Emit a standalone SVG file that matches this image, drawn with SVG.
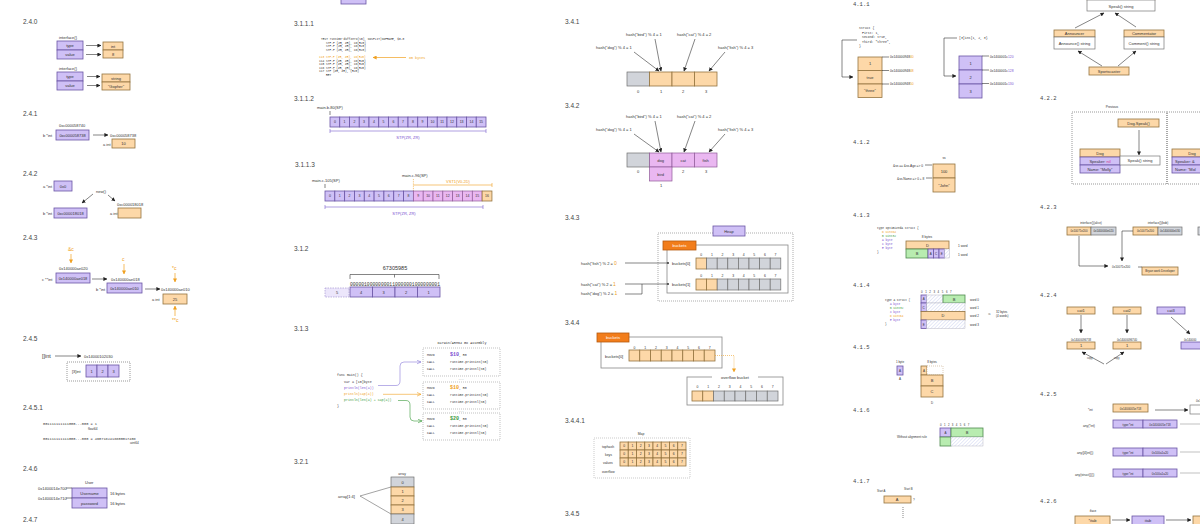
<svg xmlns="http://www.w3.org/2000/svg" width="1200" height="524" viewBox="0 0 1200 524">
<defs>
<style>
text{font-family:"Liberation Sans",Arial,sans-serif;font-size:4px;fill:#333}
.h{font-size:6.5px;fill:#444}
.c{text-anchor:middle}
.m{font-family:"Liberation Mono","DejaVu Sans Mono",monospace;font-size:3.6px}
.s{font-size:3.2px}
.p{fill:#cfc0f6;stroke:#6a55a5;stroke-width:0.8}
.pd{fill:#ece6fb;stroke:#9a8ccc;stroke-width:0.6;stroke-dasharray:1.5 1}
.o{fill:#fdd8a8;stroke:#94743f;stroke-width:0.8}
.g{fill:#d1d4da;stroke:#707070;stroke-width:0.7}
.k{fill:#eab7f1;stroke:#8f5b98;stroke-width:0.7}
.gr{fill:#b8ecb0;stroke:#4f8a4f;stroke-width:0.8}
.w{fill:#fff;stroke:#777;stroke-width:0.7}
.hh{fill:url(#hatch);stroke:#aab;stroke-width:0.4}
.ob{fill:#f27d1b;stroke:#b65a10;stroke-width:0.8}
.ln{stroke:#333;stroke-width:0.6;fill:none}
.la{stroke:#333;stroke-width:0.6;fill:none;marker-end:url(#ar)}
.lo{stroke:#f0a020;stroke-width:0.7;fill:none;marker-end:url(#ao)}
.dot{fill:none;stroke:#999;stroke-width:0.6;stroke-dasharray:1 1}
.bx{fill:none;stroke:#888;stroke-width:0.8}
.or{fill:#f0a020}
.pu{fill:#7a4fd0}
.gn{fill:#3a9a3a}
.wt{fill:#fff}
</style>
<marker id="ar" viewBox="0 0 10 10" refX="9" refY="5" markerWidth="4" markerHeight="4" markerUnits="userSpaceOnUse" orient="auto"><path d="M0,0L10,5L0,10z" fill="#222"/></marker>
<marker id="ao" viewBox="0 0 10 10" refX="9" refY="5" markerWidth="4" markerHeight="4" markerUnits="userSpaceOnUse" orient="auto"><path d="M0,0L10,5L0,10z" fill="#f0a020"/></marker>
<marker id="aop" viewBox="0 0 10 10" refX="9" refY="5" markerWidth="5" markerHeight="5" markerUnits="userSpaceOnUse" orient="auto"><path d="M0,1L9,5L0,9" fill="none" stroke="#8a7ad8" stroke-width="1.2"/></marker>
<marker id="aoo" viewBox="0 0 10 10" refX="9" refY="5" markerWidth="5" markerHeight="5" markerUnits="userSpaceOnUse" orient="auto"><path d="M0,1L9,5L0,9" fill="none" stroke="#f0a020" stroke-width="1.2"/></marker>
<marker id="aog" viewBox="0 0 10 10" refX="9" refY="5" markerWidth="5" markerHeight="5" markerUnits="userSpaceOnUse" orient="auto"><path d="M0,1L9,5L0,9" fill="none" stroke="#3a9a3a" stroke-width="1.2"/></marker>
<pattern id="hatch" width="2.5" height="2.5" patternUnits="userSpaceOnUse" patternTransform="rotate(45)"><rect width="2.5" height="2.5" fill="#fff"/><line x1="0" y1="0" x2="0" y2="2.5" stroke="#9aa6e0" stroke-width="0.5"/></pattern>
</defs>
<rect width="1200" height="524" fill="#fff"/>

<!-- ===== 2.4.0 ===== -->
<g id="s240">
<text class="h" x="23" y="24">2.4.0</text>
<text x="59" y="39">interface{}</text>
<rect class="p" x="57" y="41" width="26" height="9"/><text class="c" x="70" y="47">type</text>
<rect class="p" x="57" y="50" width="26" height="9"/><text class="c" x="70" y="56">value</text>
<rect class="o" x="103" y="42" width="20" height="8"/><text class="c" x="113" y="47.5">int</text>
<rect class="o" x="103" y="50" width="20" height="8"/><text class="c" x="113" y="55.5">8</text>
<text x="59" y="70">interface{}</text>
<rect class="p" x="57" y="72" width="26" height="9"/><text class="c" x="70" y="78">type</text>
<rect class="p" x="57" y="81" width="26" height="9"/><text class="c" x="70" y="87">value</text>
<rect class="o" x="102" y="74" width="28" height="8"/><text class="c" x="116" y="79.5">string</text>
<rect class="o" x="102" y="82" width="28" height="8"/><text class="c" x="116" y="87.5">"Gopher"</text>
</g>

<!-- ===== 2.4.1 ===== -->
<g id="s241">
<text class="h" x="23" y="116">2.4.1</text>
<text x="59" y="127">0xc000058740</text>
<text x="43" y="137">b *int</text>
<rect class="p" x="56" y="130" width="33" height="10"/><text class="c" x="72.5" y="136.5">0xc000058738</text>
<text x="110" y="136.5">0xc000058738</text>
<text x="103" y="145.5">a int</text>
<rect class="o" x="112" y="139" width="23" height="9"/><text class="c" x="123.5" y="145">10</text>
</g>

<!-- ===== 2.4.2 ===== -->
<g id="s242">
<text class="h" x="23" y="176">2.4.2</text>
<text x="43" y="187.5">a *int</text>
<rect class="p" x="54" y="181" width="18" height="10"/><text class="c" x="63" y="187.5">0x0</text>
<text x="96" y="193">new()</text>
<text x="117" y="205.5">0xc000018018</text>
<text x="43" y="214.5">b *int</text>
<rect class="p" x="54" y="208" width="33" height="10"/><text class="c" x="70.5" y="214.5">0xc000018018</text>
<text x="110" y="214.5">a int</text>
<rect class="o" x="118" y="208" width="23" height="10"/>
</g>

<!-- ===== 2.4.3 ===== -->
<g id="s243">
<text class="h" x="23" y="240">2.4.3</text>
<text class="or" x="68" y="251" style="font-size:5px">&amp;c</text>
<text x="59" y="270">0x140000ae020</text>
<text x="42" y="280.5">c **int</text>
<rect class="p" x="56" y="273" width="34" height="10"/><text class="c" x="73" y="279.5">0x140000ae018</text>
<text class="or" x="122" y="261" style="font-size:5px">c</text>
<text x="111" y="281">0x140000ae018</text>
<text x="96" y="290.5">b *int</text>
<rect class="p" x="107" y="283" width="35" height="10"/><text class="c" x="124.5" y="289.5">0x140000ae010</text>
<text class="or" x="172" y="270" style="font-size:5px">*c</text>
<text x="161" y="290.5">0x140000ae010</text>
<text x="152" y="300.5">a int</text>
<rect class="o" x="163" y="294" width="24" height="10"/><text class="c" x="175" y="300.5">25</text>
<text class="or" x="172" y="322" style="font-size:5px">**c</text>
</g>

<!-- ===== 2.4.5 ===== -->
<g id="s245">
<text class="h" x="23" y="341">2.4.5</text>
<text x="42" y="358" style="font-size:5.5px">[]int</text>
<text x="84" y="357.5">0x14000102030</text>
<rect class="dot" x="67" y="362" width="63" height="19" style="stroke:#555"/>
<text x="72" y="372.5">[3]int</text>
<rect class="p" x="86" y="365" width="11" height="12"/><text class="c" x="91.5" y="372.5">1</text>
<rect class="p" x="97" y="365" width="11" height="12"/><text class="c" x="102.5" y="372.5">2</text>
<rect class="p" x="108" y="365" width="11" height="12"/><text class="c" x="113.5" y="372.5">3</text>
</g>

<!-- ===== 2.4.5.1 ===== -->
<g id="s2451">
<text class="h" x="23" y="410">2.4.5.1</text>
<text class="m" x="43" y="425">001111111111000...000 = 1</text>
<text class="s" x="88" y="430">float64</text>
<text class="m" x="43" y="440">001111111111000...000 = 4607182418800017408</text>
<text class="s" x="130" y="444">uint64</text>
</g>

<!-- ===== 2.4.6 ===== -->
<g id="s246">
<text class="h" x="23" y="471">2.4.6</text>
<text x="85" y="484">User</text>
<text x="38" y="490">0x1400014e700</text>
<text x="38" y="500">0x1400014e710</text>
<rect class="p" x="72" y="488" width="35" height="10"/><text class="c" x="89.5" y="494.5">Username</text>
<rect class="p" x="72" y="498" width="35" height="10"/><text class="c" x="89.5" y="504.5">password</text>
<text x="110" y="495">16 bytes</text>
<text x="110" y="505">16 bytes</text>
<text class="h" x="23" y="522">2.4.7</text>
</g>

<!-- ===== column 2 ===== -->
<g id="s31top"><rect class="p" x="341" y="-6" width="25" height="10"/></g>

<g id="s3111">
<text class="h" x="294" y="26">3.1.1.1</text>
<text class="m" x="321" y="40" style="font-size:2.9px">TEXT runtime·duffzero(SB), NOSPLIT|NOFRAME, $0-0</text>
<text class="m" x="326" y="43.5" style="font-size:2.9px">STP.P   (ZR, ZR), 16(R20)</text>
<text class="m" x="326" y="47" style="font-size:2.9px">STP.P   (ZR, ZR), 16(R20)</text>
<text class="m" x="326" y="50.5" style="font-size:2.9px">STP.P   (ZR, ZR), 16(R20)</text>
<text class="m or" x="319" y="58" style="font-size:2.9px">113 STP.P   (ZR, ZR), 16(R20)</text>
<text class="m" x="319" y="61.5" style="font-size:2.9px">114 STP.P   (ZR, ZR), 16(R20)</text>
<text class="m" x="319" y="65" style="font-size:2.9px">115 STP.P   (ZR, ZR), 16(R20)</text>
<text class="m" x="319" y="68.5" style="font-size:2.9px">116 STP.P   (ZR, ZR), 16(R20)</text>
<text class="m" x="319" y="72" style="font-size:2.9px">117 STP     (ZR, ZR), (R20)</text>
<text class="m" x="326" y="76" style="font-size:2.9px">RET</text>
<text class="m or" x="409" y="59" style="font-size:3.4px">80 bytes</text>
</g>

<g id="s3112">
<text class="h" x="294" y="101">3.1.1.2</text>
<text x="317" y="108.5">main.b-80(SP)</text>
<line class="ln" x1="330" y1="111" x2="330" y2="115"/>
<rect class="p" x="330" y="117" width="9.75" height="10"/><rect class="p" x="339.75" y="117" width="9.75" height="10"/><rect class="p" x="349.5" y="117" width="9.75" height="10"/><rect class="p" x="359.25" y="117" width="9.75" height="10"/><rect class="p" x="369" y="117" width="9.75" height="10"/><rect class="p" x="378.75" y="117" width="9.75" height="10"/><rect class="p" x="388.5" y="117" width="9.75" height="10"/><rect class="p" x="398.25" y="117" width="9.75" height="10"/><rect class="p" x="408" y="117" width="9.75" height="10"/><rect class="p" x="417.75" y="117" width="9.75" height="10"/><rect class="p" x="427.5" y="117" width="9.75" height="10"/><rect class="p" x="437.25" y="117" width="9.75" height="10"/><rect class="p" x="447" y="117" width="9.75" height="10"/><rect class="p" x="456.75" y="117" width="9.75" height="10"/><rect class="p" x="466.5" y="117" width="9.75" height="10"/><rect class="p" x="476.25" y="117" width="9.75" height="10"/>
<text class="c" x="334.9" y="123.3" style="font-size:3.5px">0</text><text class="c" x="344.6" y="123.3" style="font-size:3.5px">1</text><text class="c" x="354.4" y="123.3" style="font-size:3.5px">2</text><text class="c" x="364.1" y="123.3" style="font-size:3.5px">3</text><text class="c" x="373.9" y="123.3" style="font-size:3.5px">4</text><text class="c" x="383.6" y="123.3" style="font-size:3.5px">5</text><text class="c" x="393.4" y="123.3" style="font-size:3.5px">6</text><text class="c" x="403.1" y="123.3" style="font-size:3.5px">7</text><text class="c" x="412.9" y="123.3" style="font-size:3.5px">8</text><text class="c" x="422.6" y="123.3" style="font-size:3.5px">9</text><text class="c" x="432.4" y="123.3" style="font-size:3.5px">10</text><text class="c" x="442.1" y="123.3" style="font-size:3.5px">11</text><text class="c" x="451.9" y="123.3" style="font-size:3.5px">12</text><text class="c" x="461.6" y="123.3" style="font-size:3.5px">13</text><text class="c" x="471.4" y="123.3" style="font-size:3.5px">14</text><text class="c" x="481.1" y="123.3" style="font-size:3.5px">15</text>
<path d="M330,129V133M330,131H486M486,129V133" stroke="#7a5fcf" stroke-width="0.6" fill="none"/>
<text class="c pu" x="408" y="138.5">STP(ZR, ZR)</text>
</g>

<g id="s3113">
<text class="h" x="295" y="167">3.1.1.3</text>
<text x="312" y="182">main.c-105(SP)</text>
<text x="402" y="177">main.c-96(SP)</text>
<line class="ln" x1="325" y1="184" x2="325" y2="188"/>
<line x1="413.4" y1="179" x2="413.4" y2="191" stroke="#f0a020" stroke-width="0.6" stroke-dasharray="1 0.8"/>
<path d="M413.4,185H492M492,183V187" stroke="#f0a020" stroke-width="0.6" fill="none"/>
<text class="c or" x="458" y="182.5">VST1(V0.2D)</text>
<rect class="p" x="325" y="191" width="9.82" height="10"/><rect class="p" x="334.82" y="191" width="9.82" height="10"/><rect class="p" x="344.64" y="191" width="9.82" height="10"/><rect class="p" x="354.46" y="191" width="9.82" height="10"/><rect class="p" x="364.28" y="191" width="9.82" height="10"/><rect class="p" x="374.1" y="191" width="9.82" height="10"/><rect class="p" x="383.92" y="191" width="9.82" height="10"/><rect class="p" x="393.74" y="191" width="9.82" height="10"/><rect class="p" x="403.56" y="191" width="9.82" height="10"/>
<rect class="k" x="413.38" y="191" width="9.82" height="10"/><rect class="k" x="423.2" y="191" width="9.82" height="10"/><rect class="k" x="433.02" y="191" width="9.82" height="10"/><rect class="k" x="442.84" y="191" width="9.82" height="10"/><rect class="k" x="452.66" y="191" width="9.82" height="10"/><rect class="k" x="462.48" y="191" width="9.82" height="10"/><rect class="k" x="472.3" y="191" width="9.82" height="10"/>
<rect class="o" x="482.12" y="191" width="9.82" height="10"/>
<text class="c" x="329.9" y="197.3" style="font-size:3.5px">0</text><text class="c" x="339.7" y="197.3" style="font-size:3.5px">1</text><text class="c" x="349.6" y="197.3" style="font-size:3.5px">2</text><text class="c" x="359.4" y="197.3" style="font-size:3.5px">3</text><text class="c" x="369.2" y="197.3" style="font-size:3.5px">4</text><text class="c" x="379" y="197.3" style="font-size:3.5px">5</text><text class="c" x="388.8" y="197.3" style="font-size:3.5px">6</text><text class="c" x="398.7" y="197.3" style="font-size:3.5px">7</text><text class="c" x="408.5" y="197.3" style="font-size:3.5px">8</text><text class="c" x="418.3" y="197.3" style="font-size:3.5px">9</text><text class="c" x="428.1" y="197.3" style="font-size:3.5px">10</text><text class="c" x="437.9" y="197.3" style="font-size:3.5px">11</text><text class="c" x="447.8" y="197.3" style="font-size:3.5px">12</text><text class="c" x="457.6" y="197.3" style="font-size:3.5px">13</text><text class="c" x="467.4" y="197.3" style="font-size:3.5px">14</text><text class="c" x="477.2" y="197.3" style="font-size:3.5px">15</text><text class="c" x="487" y="197.3" style="font-size:3.5px">16</text>
<path d="M325,205V209M325,207H483M483,205V209" stroke="#7a5fcf" stroke-width="0.6" fill="none"/>
<text class="c pu" x="404" y="215">STP(ZR, ZR)</text>
</g>

<g id="s312">
<text class="h" x="294" y="251">3.1.2</text>
<text class="c" x="395" y="270" style="font-size:5.5px">67305985</text>
<path d="M350,279V274.5H439V279M394.5,274.5V277.5" stroke="#333" stroke-width="0.6" fill="none"/>
<text class="m" x="350" y="285.5" textLength="90" lengthAdjust="spacingAndGlyphs" style="font-size:4.5px">00000100000000110000001000000001</text>
<rect class="pd" x="325" y="288" width="24" height="9"/><text class="c" x="337" y="294">5</text>
<rect class="p" x="350" y="287" width="22.5" height="10"/><text class="c" x="361.2" y="293.5">4</text>
<rect class="p" x="372.5" y="287" width="22.5" height="10"/><text class="c" x="383.7" y="293.5">3</text>
<rect class="p" x="395" y="287" width="22.5" height="10"/><text class="c" x="406.2" y="293.5">2</text>
<rect class="p" x="417.5" y="287" width="22.5" height="10"/><text class="c" x="428.7" y="293.5">1</text>
</g>

<g id="s313">
<text class="h" x="294" y="331">3.1.3</text>
<text class="m c" x="462" y="344" style="font-size:3.4px">Darwin/ARM64 Go Assembly</text>
<rect class="dot" x="423" y="348" width="77" height="28"/>
<rect class="dot" x="423" y="382" width="77" height="27"/>
<rect class="dot" x="423" y="413" width="77" height="27"/>
<text class="m c" x="461" y="380" style="font-size:3px">...</text>
<text class="m c" x="461" y="411.5" style="font-size:3px">...</text>
<text class="m" x="427" y="356" style="font-size:3.2px">MOVD</text><text class="m" x="450" y="356" style="font-size:3.2px"><tspan class="pu" style="font-size:5px;font-weight:bold">$10</tspan>, R0</text>
<text class="m" x="427" y="363" style="font-size:3.2px">CALL</text><text class="m" x="450" y="363" style="font-size:3.2px">runtime.printint(SB)</text>
<text class="m" x="427" y="370" style="font-size:3.2px">CALL</text><text class="m" x="450" y="370" style="font-size:3.2px">runtime.printnl(SB)</text>
<text class="m" x="427" y="389" style="font-size:3.2px">MOVD</text><text class="m" x="450" y="389" style="font-size:3.2px"><tspan class="or" style="font-size:5px;font-weight:bold">$10</tspan>, R0</text>
<text class="m" x="427" y="396" style="font-size:3.2px">CALL</text><text class="m" x="450" y="396" style="font-size:3.2px">runtime.printint(SB)</text>
<text class="m" x="427" y="403" style="font-size:3.2px">CALL</text><text class="m" x="450" y="403" style="font-size:3.2px">runtime.printnl(SB)</text>
<text class="m" x="427" y="420" style="font-size:3.2px">MOVD</text><text class="m" x="450" y="420" style="font-size:3.2px"><tspan class="gn" style="font-size:5px;font-weight:bold">$20</tspan>, R0</text>
<text class="m" x="427" y="427" style="font-size:3.2px">CALL</text><text class="m" x="450" y="427" style="font-size:3.2px">runtime.printint(SB)</text>
<text class="m" x="427" y="434" style="font-size:3.2px">CALL</text><text class="m" x="450" y="434" style="font-size:3.2px">runtime.printnl(SB)</text>
<text class="m" x="337" y="376" style="font-size:3.3px">func main() {</text>
<text class="m" x="344" y="383" style="font-size:3.3px">var a [10]byte</text>
<text class="m pu" x="344" y="389" style="font-size:3.3px">println(len(a))</text>
<text class="m or" x="344" y="395" style="font-size:3.3px">println(cap(a))</text>
<text class="m gn" x="344" y="401" style="font-size:3.3px">println(len(a) + cap(a))</text>
<text class="m" x="337" y="407" style="font-size:3.3px">}</text>
</g>

<g id="s321">
<text class="h" x="294" y="464">3.2.1</text>
<text class="c" x="402" y="475" style="font-size:3.4px">array</text>
<rect class="g" x="391" y="477" width="23" height="10"/><text class="c" x="402.5" y="483.5">0</text>
<rect class="o" x="391" y="487" width="23" height="9"/><text class="c" x="402.5" y="493">1</text>
<rect class="o" x="391" y="496" width="23" height="9"/><text class="c" x="402.5" y="502">2</text>
<rect class="o" x="391" y="505" width="23" height="9"/><text class="c" x="402.5" y="511">3</text>
<rect class="g" x="391" y="514" width="23" height="10"/><text class="c" x="402.5" y="520.5">4</text>
<text x="338" y="497.5">array[1:4]</text>
</g>

<!-- ===== column 3 ===== -->
<g id="s341">
<text class="h" x="565" y="24">3.4.1</text>
<text x="626" y="36">hash("bird") % 4 = 1</text>
<text x="677" y="36">hash("cat") % 4 = 2</text>
<text x="596" y="49">hash("dog") % 4 = 1</text>
<text x="718" y="49">hash("fish") % 4 = 3</text>
<rect class="g" x="627" y="72" width="22.5" height="14"/>
<rect class="o" x="649.5" y="72" width="22.5" height="14"/>
<rect class="o" x="672" y="72" width="22.5" height="14"/>
<rect class="o" x="694.5" y="72" width="22.5" height="14"/>
<text class="c" x="638" y="93">0</text><text class="c" x="661" y="93">1</text><text class="c" x="683" y="93">2</text><text class="c" x="706" y="93">3</text>
</g>

<g id="s342">
<text class="h" x="565" y="108">3.4.2</text>
<text x="626" y="118">hash("bird") % 4 = 1</text>
<text x="677" y="118">hash("cat") % 4 = 2</text>
<text x="596" y="131">hash("dog") % 4 = 1</text>
<text x="718" y="131">hash("fish") % 4 = 3</text>
<rect class="g" x="627" y="153" width="22.5" height="14"/>
<rect class="k" x="649.5" y="153" width="22.5" height="14"/><text class="c" x="660.7" y="161.5">dog</text>
<rect class="k" x="672" y="153" width="22.5" height="14"/><text class="c" x="683.2" y="161.5">cat</text>
<rect class="k" x="694.5" y="153" width="22.5" height="14"/><text class="c" x="705.7" y="161.5">fish</text>
<rect class="k" x="649.5" y="167" width="22.5" height="14"/><text class="c" x="660.7" y="175.5">bird</text>
<text class="c" x="638" y="173">0</text><text class="c" x="683" y="173">2</text><text class="c" x="706" y="173">3</text><text class="c" x="661" y="187">1</text>
</g>

<g id="s343">
<text class="h" x="565" y="220">3.4.3</text>
<rect class="dot" x="658" y="233" width="135" height="68" style="stroke:#777"/>
<rect class="p" x="713" y="226" width="32" height="10"/><text class="c" x="729" y="232.5">Heap</text>
<rect class="bx" x="667" y="245" width="121" height="48"/>
<rect class="ob" x="663" y="241" width="33" height="9"/><text class="c wt" x="679.5" y="247">buckets</text>
<text x="581" y="264.5">hash("fish") % 2 = <tspan class="or" style="font-size:5px">0</tspan></text>
<text x="581" y="285.5">hash("cat") % 2 = <tspan class="or" style="font-size:5px">1</tspan></text>
<text x="581" y="295">hash("dog") % 2 = <tspan class="or" style="font-size:5px">1</tspan></text>
<text x="672" y="265">buckets[0]</text>
<text x="672" y="286">buckets[1]</text>
<text class="c" x="701.3" y="256" style="font-size:3.4px">0</text><text class="c" x="711.9" y="256" style="font-size:3.4px">1</text><text class="c" x="722.5" y="256" style="font-size:3.4px">2</text><text class="c" x="733.1" y="256" style="font-size:3.4px">3</text><text class="c" x="743.7" y="256" style="font-size:3.4px">4</text><text class="c" x="754.3" y="256" style="font-size:3.4px">5</text><text class="c" x="764.9" y="256" style="font-size:3.4px">6</text><text class="c" x="775.5" y="256" style="font-size:3.4px">7</text>
<text class="c" x="701.3" y="277" style="font-size:3.4px">0</text><text class="c" x="711.9" y="277" style="font-size:3.4px">1</text><text class="c" x="722.5" y="277" style="font-size:3.4px">2</text><text class="c" x="733.1" y="277" style="font-size:3.4px">3</text><text class="c" x="743.7" y="277" style="font-size:3.4px">4</text><text class="c" x="754.3" y="277" style="font-size:3.4px">5</text><text class="c" x="764.9" y="277" style="font-size:3.4px">6</text><text class="c" x="775.5" y="277" style="font-size:3.4px">7</text>
<rect class="o" x="696" y="258" width="10.6" height="11"/><rect class="g" x="706.6" y="258" width="10.6" height="11"/><rect class="g" x="717.2" y="258" width="10.6" height="11"/><rect class="g" x="727.8" y="258" width="10.6" height="11"/><rect class="g" x="738.4" y="258" width="10.6" height="11"/><rect class="g" x="749" y="258" width="10.6" height="11"/><rect class="g" x="759.6" y="258" width="10.6" height="11"/><rect class="g" x="770.2" y="258" width="10.6" height="11"/>
<rect class="o" x="696" y="279" width="10.6" height="11"/><rect class="o" x="706.6" y="279" width="10.6" height="11"/><rect class="g" x="717.2" y="279" width="10.6" height="11"/><rect class="g" x="727.8" y="279" width="10.6" height="11"/><rect class="g" x="738.4" y="279" width="10.6" height="11"/><rect class="g" x="749" y="279" width="10.6" height="11"/><rect class="g" x="759.6" y="279" width="10.6" height="11"/><rect class="g" x="770.2" y="279" width="10.6" height="11"/>
</g>

<g id="s344">
<text class="h" x="565" y="325">3.4.4</text>
<rect class="bx" x="601" y="337" width="121" height="31"/>
<rect class="ob" x="597" y="333" width="32" height="9"/><text class="c wt" x="613" y="339">buckets</text>
<text x="605" y="357.5">buckets[0]</text>
<text class="c" x="634.4" y="348.5" style="font-size:3.4px">0</text><text class="c" x="645.1" y="348.5" style="font-size:3.4px">1</text><text class="c" x="655.9" y="348.5" style="font-size:3.4px">2</text><text class="c" x="666.6" y="348.5" style="font-size:3.4px">3</text><text class="c" x="677.4" y="348.5" style="font-size:3.4px">4</text><text class="c" x="688.1" y="348.5" style="font-size:3.4px">5</text><text class="c" x="698.9" y="348.5" style="font-size:3.4px">6</text><text class="c" x="709.6" y="348.5" style="font-size:3.4px">7</text>
<rect class="o" x="629" y="350" width="10.75" height="11"/><rect class="o" x="639.75" y="350" width="10.75" height="11"/><rect class="o" x="650.5" y="350" width="10.75" height="11"/><rect class="o" x="661.25" y="350" width="10.75" height="11"/><rect class="o" x="672" y="350" width="10.75" height="11"/><rect class="o" x="682.75" y="350" width="10.75" height="11"/><rect class="o" x="693.5" y="350" width="10.75" height="11"/><rect class="o" x="704.25" y="350" width="10.75" height="11"/>
<rect class="bx" x="687" y="377" width="96" height="28"/>
<rect x="712" y="374" width="46" height="5" fill="#fff"/>
<text class="c" x="735" y="378.5">overflow bucket</text>
<text class="c" x="697.4" y="387.5" style="font-size:3.4px">0</text><text class="c" x="708.1" y="387.5" style="font-size:3.4px">1</text><text class="c" x="718.9" y="387.5" style="font-size:3.4px">2</text><text class="c" x="729.6" y="387.5" style="font-size:3.4px">3</text><text class="c" x="740.4" y="387.5" style="font-size:3.4px">4</text><text class="c" x="751.1" y="387.5" style="font-size:3.4px">5</text><text class="c" x="761.9" y="387.5" style="font-size:3.4px">6</text><text class="c" x="772.6" y="387.5" style="font-size:3.4px">7</text>
<rect class="o" x="692" y="391" width="10.75" height="10"/><rect class="o" x="702.75" y="391" width="10.75" height="10"/><rect class="g" x="713.5" y="391" width="10.75" height="10"/><rect class="g" x="724.25" y="391" width="10.75" height="10"/><rect class="g" x="735" y="391" width="10.75" height="10"/><rect class="g" x="745.75" y="391" width="10.75" height="10"/><rect class="g" x="756.5" y="391" width="10.75" height="10"/><rect class="g" x="767.25" y="391" width="10.75" height="10"/>
</g>

<g id="s3441">
<text class="h" x="565" y="423">3.4.4.1</text>
<text class="c" x="641" y="435" style="font-size:3.4px">Map</text>
<rect class="dot" x="594" y="438" width="96" height="40" style="stroke:#aaa"/>
<text x="602" y="447.5" style="font-size:3.4px">tophash</text>
<text x="605" y="455.5" style="font-size:3.4px">keys</text>
<text x="603" y="463.5" style="font-size:3.4px">values</text>
<text x="602" y="472.5" style="font-size:3.4px">overflow</text>
<rect class="o" x="620" y="442" width="8.25" height="8"/><rect class="o" x="628.25" y="442" width="8.25" height="8"/><rect class="o" x="636.5" y="442" width="8.25" height="8"/><rect class="o" x="644.75" y="442" width="8.25" height="8"/><rect class="o" x="653" y="442" width="8.25" height="8"/><rect class="o" x="661.25" y="442" width="8.25" height="8"/><rect class="o" x="669.5" y="442" width="8.25" height="8"/><rect class="o" x="677.75" y="442" width="8.25" height="8"/>
<rect class="o" x="620" y="450" width="8.25" height="8"/><rect class="o" x="628.25" y="450" width="8.25" height="8"/><rect class="o" x="636.5" y="450" width="8.25" height="8"/><rect class="o" x="644.75" y="450" width="8.25" height="8"/><rect class="o" x="653" y="450" width="8.25" height="8"/><rect class="o" x="661.25" y="450" width="8.25" height="8"/><rect class="o" x="669.5" y="450" width="8.25" height="8"/><rect class="o" x="677.75" y="450" width="8.25" height="8"/>
<rect class="o" x="620" y="458" width="8.25" height="8"/><rect class="o" x="628.25" y="458" width="8.25" height="8"/><rect class="o" x="636.5" y="458" width="8.25" height="8"/><rect class="o" x="644.75" y="458" width="8.25" height="8"/><rect class="o" x="653" y="458" width="8.25" height="8"/><rect class="o" x="661.25" y="458" width="8.25" height="8"/><rect class="o" x="669.5" y="458" width="8.25" height="8"/><rect class="o" x="677.75" y="458" width="8.25" height="8"/>
<text class="c" x="624.1" y="447.3" style="font-size:3.4px">0</text><text class="c" x="632.4" y="447.3" style="font-size:3.4px">1</text><text class="c" x="640.6" y="447.3" style="font-size:3.4px">2</text><text class="c" x="648.9" y="447.3" style="font-size:3.4px">3</text><text class="c" x="657.1" y="447.3" style="font-size:3.4px">4</text><text class="c" x="665.4" y="447.3" style="font-size:3.4px">5</text><text class="c" x="673.6" y="447.3" style="font-size:3.4px">6</text><text class="c" x="681.9" y="447.3" style="font-size:3.4px">7</text>
<text class="c" x="624.1" y="455.3" style="font-size:3.4px">0</text><text class="c" x="632.4" y="455.3" style="font-size:3.4px">1</text><text class="c" x="640.6" y="455.3" style="font-size:3.4px">2</text><text class="c" x="648.9" y="455.3" style="font-size:3.4px">3</text><text class="c" x="657.1" y="455.3" style="font-size:3.4px">4</text><text class="c" x="665.4" y="455.3" style="font-size:3.4px">5</text><text class="c" x="673.6" y="455.3" style="font-size:3.4px">6</text><text class="c" x="681.9" y="455.3" style="font-size:3.4px">7</text>
<text class="c" x="624.1" y="463.3" style="font-size:3.4px">0</text><text class="c" x="632.4" y="463.3" style="font-size:3.4px">1</text><text class="c" x="640.6" y="463.3" style="font-size:3.4px">2</text><text class="c" x="648.9" y="463.3" style="font-size:3.4px">3</text><text class="c" x="657.1" y="463.3" style="font-size:3.4px">4</text><text class="c" x="665.4" y="463.3" style="font-size:3.4px">5</text><text class="c" x="673.6" y="463.3" style="font-size:3.4px">6</text><text class="c" x="681.9" y="463.3" style="font-size:3.4px">7</text>
<text class="h" x="565" y="516">3.4.5</text>
</g>

<!-- ===== column 4 ===== -->
<g id="s411">
<text class="h" x="853" y="6" style="font-family:'Liberation Mono',monospace;font-size:5.5px">4.1.1</text>
<text class="m" x="859" y="29" style="font-size:3.2px">Struct {</text>
<text class="m" x="862" y="33.5" style="font-size:3.2px">First:  1,</text>
<text class="m" x="862" y="38" style="font-size:3.2px">Second: true,</text>
<text class="m" x="862" y="42.5" style="font-size:3.2px">Third:  "three",</text>
<text class="m" x="859" y="47" style="font-size:3.2px">}</text>
<rect class="o" x="858" y="57" width="24" height="13.5"/><text class="c" x="870" y="65">1</text>
<rect class="o" x="858" y="70.5" width="24" height="13.5"/><text class="c" x="870" y="78.5">true</text>
<rect class="o" x="858" y="84" width="24" height="13.5"/><text class="c" x="870" y="92">"three"</text>
<text x="890" y="58" style="font-size:3.3px">0x140000948<tspan class="or">40</tspan></text>
<text x="890" y="71.5" style="font-size:3.3px">0x140000948<tspan class="or">48</tspan></text>
<text x="890" y="85" style="font-size:3.3px">0x140000948<tspan class="or">50</tspan></text>
<text class="m" x="959" y="39" style="font-size:3.2px">[3]int{1, 2, 3}</text>
<rect class="p" x="959" y="56" width="23" height="14"/><text class="c" x="970.5" y="64.5">1</text>
<rect class="p" x="959" y="70" width="23" height="14"/><text class="c" x="970.5" y="78.5">2</text>
<rect class="p" x="959" y="84" width="23" height="14"/><text class="c" x="970.5" y="92.5">3</text>
<text x="990" y="57.5" style="font-size:3.3px">0x1400001c<tspan class="pu">120</tspan></text>
<text x="990" y="71.5" style="font-size:3.3px">0x1400001c<tspan class="pu">128</tspan></text>
<text x="990" y="84.5" style="font-size:3.3px">0x1400001c<tspan class="pu">130</tspan></text>
</g>

<g id="s412">
<text class="h" x="853" y="144" style="font-family:'Liberation Mono',monospace;font-size:5.5px">4.1.2</text>
<text class="c" x="944" y="159" style="font-size:3.2px">ss</text>
<text x="893" y="166.5" style="font-size:3.2px">&amp;ss == &amp;ss.Age =&gt; 0</text>
<text x="897" y="180" style="font-size:3.2px">&amp;ss.Name =&gt; 0 + 8</text>
<rect class="o" x="933" y="164" width="22" height="14"/><text class="c" x="944" y="172.5">100</text>
<rect class="o" x="933" y="178" width="22" height="14"/><text class="c" x="944" y="186.5">"John"</text>
</g>

<g id="s413">
<text class="h" x="853" y="217" style="font-family:'Liberation Mono',monospace;font-size:5.5px">4.1.3</text>
<text class="m" x="877" y="229" style="font-size:2.9px">type OptimizedA struct {</text>
<text class="m or" x="882" y="233" style="font-size:2.9px">D uint64</text>
<text class="m gn" x="882" y="237" style="font-size:2.9px">B uint32</text>
<text class="m pu" x="882" y="241" style="font-size:2.9px">A byte</text>
<text class="m pu" x="882" y="245" style="font-size:2.9px">C byte</text>
<text class="m pu" x="882" y="249" style="font-size:2.9px">E byte</text>
<text class="m" x="877" y="253" style="font-size:2.9px">}</text>
<text class="c" x="927" y="238" style="font-size:3.2px">8 bytes</text>
<rect class="o" x="906" y="241" width="43" height="8"/><text class="c" x="927.5" y="246.5">D</text>
<rect class="gr" x="906" y="249" width="22" height="9"/><text class="c" x="917" y="255">B</text>
<rect class="p" x="928" y="249" width="5.5" height="9"/><text class="c" x="930.7" y="255" style="font-size:3px">A</text>
<rect class="p" x="933.5" y="249" width="5.5" height="9"/><text class="c" x="936.2" y="255" style="font-size:3px">C</text>
<rect class="p" x="939" y="249" width="5.5" height="9"/><text class="c" x="941.7" y="255" style="font-size:3px">E</text>
<rect class="hh" x="944.5" y="249" width="5" height="9"/>
<text x="958" y="247" style="font-size:3.2px">1 word</text>
<text x="958" y="255.5" style="font-size:3.2px">1 word</text>
</g>

<g id="s414">
<text class="h" x="853" y="287" style="font-family:'Liberation Mono',monospace;font-size:5.5px">4.1.4</text>
<text class="m" x="885" y="301" style="font-size:2.8px">type A struct {</text>
<text class="m pu" x="890" y="305" style="font-size:2.8px">A byte</text>
<text class="m gn" x="890" y="309" style="font-size:2.8px">B uint32</text>
<text class="m pu" x="890" y="313" style="font-size:2.8px">C byte</text>
<text class="m or" x="890" y="317" style="font-size:2.8px">D uint64</text>
<text class="m pu" x="890" y="321" style="font-size:2.8px">E byte</text>
<text class="m" x="885" y="325" style="font-size:2.8px">}</text>
<text x="921" y="293" style="font-size:2.8px;letter-spacing:2.6px">01234567</text>
<rect class="p" x="921" y="295" width="5.5" height="8"/><text class="c" x="923.7" y="300.3" style="font-size:3px">A</text>
<rect class="hh" x="926.5" y="295" width="16.5" height="8"/>
<rect class="gr" x="943" y="295" width="22" height="8"/><text class="c" x="954" y="300.5">B</text>
<rect class="p" x="921" y="303" width="5.5" height="8.5"/><text class="c" x="923.7" y="308.6" style="font-size:3px">C</text>
<rect class="hh" x="926.5" y="303" width="38.5" height="8.5"/>
<rect class="o" x="921" y="311.5" width="44" height="8.5"/><text class="c" x="943" y="317.3">D</text>
<rect class="p" x="921" y="320" width="5.5" height="8.5"/><text class="c" x="923.7" y="325.6" style="font-size:3px">E</text>
<rect class="hh" x="926.5" y="320" width="38.5" height="8.5"/>
<text x="970" y="300.5" style="font-size:3px">word 0</text>
<text x="970" y="308.5" style="font-size:3px">word 1</text>
<text x="970" y="317" style="font-size:3px">word 2</text>
<text x="970" y="325.5" style="font-size:3px">word 3</text>
<text x="988" y="314.5" style="font-size:3.4px">⇒</text>
<text x="996" y="313" style="font-size:3px">32 bytes</text>
<text x="996" y="317" style="font-size:3px">(4 words)</text>
</g>

<g id="s415">
<text class="h" x="853" y="349" style="font-family:'Liberation Mono',monospace;font-size:5.5px">4.1.5</text>
<text class="c" x="900" y="363" style="font-size:3px">1 byte</text>
<rect class="p" x="897" y="366" width="6" height="9"/><text class="c" x="900" y="372" style="font-size:3px">A</text>
<text class="c" x="900" y="380" style="font-size:3px">A</text>
<text class="c" x="932" y="363" style="font-size:3px">8 bytes</text>
<rect class="o" x="921" y="366" width="6" height="9"/><text class="c" x="924" y="372" style="font-size:3px">A</text>
<rect x="927" y="366" width="16" height="9" fill="#fff" stroke="#b89a70" stroke-width="0.5" stroke-dasharray="1 1"/>
<rect class="o" x="921" y="375" width="22" height="11"/><text class="c" x="932" y="382">B</text>
<rect class="o" x="921" y="386" width="22" height="11"/><text class="c" x="932" y="393">C</text>
<text class="c" x="932" y="404" style="font-size:3px">D</text>
</g>

<g id="s416">
<text class="h" x="853" y="412" style="font-family:'Liberation Mono',monospace;font-size:5.5px">4.1.6</text>
<text x="940" y="426" style="font-size:2.8px;letter-spacing:2.4px">01234567</text>
<text x="897" y="438" style="font-size:3px">Without alignment rule</text>
<rect class="p" x="940" y="428" width="11" height="9"/><text class="c" x="945.5" y="434" style="font-size:3px">A</text>
<rect class="gr" x="951" y="428" width="32" height="9"/><text class="c" x="967" y="434">B</text>
<rect class="gr" x="940" y="437" width="11" height="9"/>
<rect class="hh" x="951" y="437" width="32" height="9"/>
</g>

<g id="s417">
<text class="h" x="853" y="483" style="font-family:'Liberation Mono',monospace;font-size:5.5px">4.1.7</text>
<text x="877" y="492" style="font-size:2.8px">Start A</text>
<text x="904" y="490" style="font-size:2.8px">Start B</text>
<rect class="o" x="884" y="496" width="27" height="7"/><text class="c" x="897" y="501">A</text>
<text x="913" y="501" style="font-size:3px">?</text>
<line x1="903" y1="507" x2="903" y2="518" stroke="#333" stroke-width="0.6" stroke-dasharray="1 1"/>
</g>

<!-- far right -->
<g id="s421">
<rect class="o" x="1087" y="-5" width="68" height="5"/>
<rect class="w" x="1087" y="0" width="68" height="11"/><text class="c" x="1121" y="7.5">Speak() string</text>
<rect class="o" x="1054" y="30" width="41" height="7"/><text class="c" x="1074.5" y="35">Announcer</text>
<rect class="w" x="1054" y="37" width="41" height="12"/><text class="c" x="1074.5" y="44.5">Announce() string</text>
<rect class="o" x="1124" y="30" width="40" height="7"/><text class="c" x="1144" y="35">Commentator</text>
<rect class="w" x="1124" y="37" width="40" height="12"/><text class="c" x="1144" y="44.5">Comment() string</text>
<rect class="o" x="1089" y="67" width="40" height="8"/><text class="c" x="1109" y="72.5">Sportscaster</text>
</g>

<g id="s422">
<text class="h" x="1040" y="100" style="font-family:'Liberation Mono',monospace;font-size:5.5px">4.2.2</text>
<text class="c" x="1112" y="108" style="font-size:3.2px">Previous</text>
<rect class="dot" x="1072" y="112" width="95" height="72" style="stroke:#555"/>
<rect class="dot" x="1167" y="112" width="40" height="72" style="stroke:#555"/>
<rect class="o" x="1118" y="119" width="41" height="8"/><text class="c" x="1138.5" y="124.5">Dog.Speak()</text>
<rect class="o" x="1080" y="149" width="40" height="8"/><text class="c" x="1100" y="154.5">Dog</text>
<rect class="p" x="1080" y="157" width="40" height="8"/><text class="c" x="1100" y="162.5">Speaker: <tspan fill="#d0308a">nil</tspan></text>
<rect class="p" x="1080" y="165" width="40" height="8"/><text class="c" x="1100" y="170.5">Name: "Molly"</text>
<rect class="w" x="1120" y="156" width="40" height="9"/><text class="c" x="1140" y="162">Speak() string</text>
<rect class="o" x="1172" y="149" width="40" height="8"/><text class="c" x="1192" y="154.5">Dog</text>
<rect class="p" x="1172" y="157" width="40" height="8"/><text x="1175" y="162.5">Speaker: &amp;</text>
<rect class="p" x="1172" y="165" width="40" height="8"/><text x="1175" y="170.5">Name: "Mol</text>
</g>

<g id="s423">
<text class="h" x="1040" y="209" style="font-family:'Liberation Mono',monospace;font-size:5.5px">4.2.3</text>
<text class="c" x="1091" y="224" style="font-size:3px">interface{}(alice)</text>
<rect class="o" x="1067" y="227" width="24" height="8"/><text class="c" x="1079" y="232.3" style="font-size:2.8px">0x10071e200</text>
<rect class="g" x="1091" y="227" width="25" height="8"/><text class="c" x="1103.5" y="232.3" style="font-size:2.8px">0x1400000e020</text>
<text class="c" x="1158" y="224" style="font-size:3px">interface{}(bob)</text>
<rect class="o" x="1133" y="227" width="25" height="8"/><text class="c" x="1145.5" y="232.3" style="font-size:2.8px">0x10071e200</text>
<rect class="g" x="1158" y="227" width="24" height="8"/><text class="c" x="1170" y="232.3" style="font-size:2.8px">0x1400000e030</text>
<rect class="g" x="1198" y="227" width="10" height="8"/>
<text x="1112" y="267.5" style="font-size:3px">0x10071e200</text>
<rect class="o" x="1142" y="267" width="36" height="8"/><text class="c" x="1160" y="272.3" style="font-size:3px">Bryan work Developer</text>
</g>

<g id="s424">
<text class="h" x="1040" y="297" style="font-family:'Liberation Mono',monospace;font-size:5.5px">4.2.4</text>
<rect class="o" x="1067" y="307" width="28" height="7"/><text class="c" x="1081" y="312">cat1</text>
<rect class="o" x="1113" y="307" width="28" height="7"/><text class="c" x="1127" y="312">cat2</text>
<rect class="p" x="1157" y="307" width="28" height="7"/><text class="c" x="1171" y="312">cat3</text>
<text class="c" x="1081" y="340.5" style="font-size:2.8px">0x14000096738</text>
<text class="c" x="1127" y="340.5" style="font-size:2.8px">0x14000096740</text>
<text x="1184" y="340.5" style="font-size:2.8px">0x140000</text>
<rect class="o" x="1067" y="342" width="28" height="7"/><text class="c" x="1081" y="347">1</text>
<rect class="o" x="1113" y="342" width="28" height="7"/><text class="c" x="1127" y="347">1</text>
<rect class="p" x="1181" y="342" width="28" height="7"/>
<text x="1087" y="359" style="font-size:2.6px">copy</text>
<text x="1114" y="359" style="font-size:2.6px">copy</text>
</g>

<g id="s425">
<text class="h" x="1040" y="396" style="font-family:'Liberation Mono',monospace;font-size:5.5px">4.2.5</text>
<text x="1088" y="410.5" style="font-size:3.2px">*int</text>
<rect class="o" x="1113" y="404" width="35" height="8"/><text class="c" x="1130.5" y="409.5" style="font-size:3px">0x1400005e718</text>
<text x="1196" y="402" style="font-size:3px">0x1</text>
<rect class="w" x="1190" y="405" width="15" height="9"/>
<text x="1083" y="426.5" style="font-size:3.2px">any(*int)</text>
<rect class="p" x="1113" y="420" width="30" height="8"/><text class="c" x="1128" y="425.5" style="font-size:3px">type:*int</text>
<rect class="p" x="1143" y="420" width="34" height="8"/><text class="c" x="1160" y="425.5" style="font-size:3px">0x1400005e718</text>
<text x="1077" y="453.5" style="font-size:3.2px">any([4]int{})</text>
<rect class="p" x="1113" y="448" width="30" height="8"/><text class="c" x="1128" y="453.5" style="font-size:3px">type:*int</text>
<rect class="p" x="1143" y="448" width="34" height="8"/><text class="c" x="1160" y="453.5" style="font-size:3px">0x100a1a20</text>
<text x="1075" y="475.5" style="font-size:3.2px">any(struct{}{})</text>
<rect class="p" x="1113" y="469" width="30" height="8"/><text class="c" x="1128" y="474.5" style="font-size:3px">type:*int</text>
<rect class="p" x="1143" y="469" width="34" height="8"/><text class="c" x="1160" y="474.5" style="font-size:3px">0x100a1a20</text>
</g>

<g id="s426">
<text class="h" x="1040" y="503" style="font-family:'Liberation Mono',monospace;font-size:5.5px">4.2.6</text>
<text class="c" x="1093" y="512" style="font-size:3.2px">iface</text>
<rect class="o" x="1075" y="516" width="35" height="9"/><text class="c" x="1092.5" y="522">*itab</text>
<rect class="p" x="1132" y="516" width="32" height="9"/><text class="c" x="1148" y="522">itab</text>
<rect class="o" x="1193" y="516" width="12" height="9"/>
</g>

<!-- ===== connectors ===== -->
<g id="connectors">
<line class="la" x1="86" y1="45.5" x2="101" y2="45.5"/>
<line class="la" x1="86" y1="54.5" x2="101" y2="54.5"/>
<line class="la" x1="87" y1="76.5" x2="100" y2="76.5"/>
<line class="la" x1="87" y1="85.5" x2="100" y2="85.5"/>
<line class="la" x1="93" y1="135" x2="108" y2="135"/>
<line class="la" x1="93" y1="194" x2="82" y2="203"/>
<line class="la" x1="108" y1="195" x2="115" y2="201"/>
<line class="lo" x1="71" y1="254" x2="71" y2="263"/>
<line class="la" x1="92" y1="279" x2="107" y2="279"/>
<line class="lo" x1="124" y1="264" x2="124" y2="274"/>
<line class="la" x1="145" y1="289" x2="160" y2="289"/>
<line class="lo" x1="175" y1="273" x2="175" y2="282"/>
<line class="lo" x1="175" y1="316" x2="175" y2="306"/>
<line class="la" x1="55" y1="356" x2="81" y2="356"/>
<line class="ln" x1="66" y1="488" x2="72" y2="488"/>
<line class="ln" x1="66" y1="498" x2="72" y2="498"/>
<line class="lo" x1="406" y1="57.5" x2="373" y2="57.5"/>
<path d="M378,385.5H396Q400,385.5 400,381V366Q400,362 404,362H421" fill="none" stroke="#8a7ad8" stroke-width="0.6" marker-end="url(#aop)"/>
<line x1="383" y1="394.3" x2="421" y2="394.3" stroke="#f0a020" stroke-width="0.6" marker-end="url(#aoo)"/>
<path d="M398,400.5H406Q410,400.5 410,405V417Q410,421 414,421H422" fill="none" stroke="#3a9a3a" stroke-width="0.6" marker-end="url(#aog)"/>
<path d="M391,487L360,496L391,514" class="ln" style="stroke:#666"/>
<line class="la" x1="634" y1="52" x2="659" y2="71"/>
<line class="la" x1="655" y1="39" x2="661" y2="71"/>
<line class="la" x1="695" y1="39" x2="684" y2="71"/>
<line class="la" x1="725" y1="52" x2="709" y2="71"/>
<line class="la" x1="634" y1="134" x2="659" y2="152"/>
<line class="la" x1="655" y1="121" x2="661" y2="152"/>
<line class="la" x1="695" y1="121" x2="684" y2="152"/>
<line class="la" x1="725" y1="134" x2="709" y2="152"/>
<line class="ln" x1="625" y1="263" x2="667" y2="263"/>
<circle cx="668" cy="263" r="0.9" fill="#222"/>
<line class="ln" x1="625" y1="284" x2="667" y2="284"/>
<path class="ln" d="M625,294H642V284"/>
<circle cx="668" cy="284" r="0.9" fill="#222"/>
<path d="M715,355.5H734V372" fill="none" stroke="#f0a020" stroke-width="0.6" stroke-dasharray="1 1" marker-end="url(#ao)"/>
<line class="ln" x1="882" y1="57" x2="889" y2="57"/>
<line class="ln" x1="882" y1="70.5" x2="889" y2="70.5"/>
<line class="ln" x1="882" y1="84" x2="889" y2="84"/>
<path class="la" d="M857,40H842V77H853"/>
<line class="ln" x1="982" y1="56" x2="989" y2="56"/>
<line class="ln" x1="982" y1="70" x2="989" y2="70"/>
<line class="ln" x1="982" y1="83.5" x2="989" y2="83.5"/>
<path class="la" d="M957,38H944V76H956"/>
<line class="ln" x1="925" y1="165" x2="932" y2="165"/>
<line class="ln" x1="926" y1="178" x2="932" y2="178"/>
<line class="la" x1="1075" y1="28" x2="1104" y2="13"/>
<line class="la" x1="1136" y1="27" x2="1115" y2="13"/>
<line class="la" x1="1102" y1="66" x2="1078" y2="51"/>
<line class="la" x1="1118" y1="66" x2="1136" y2="51"/>
<line class="la" x1="1139" y1="130" x2="1139" y2="155"/>
<path class="la" d="M1079,236V266H1108"/>
<path class="la" d="M1133,231H1122V261"/>
<line class="ln" x1="1138" y1="267" x2="1142" y2="267"/>
<line class="la" x1="1081" y1="315" x2="1081" y2="333"/>
<line class="la" x1="1127" y1="315" x2="1127" y2="333"/>
<line class="la" x1="1171" y1="317" x2="1190" y2="334"/>
<line class="la" x1="1104" y1="364" x2="1082" y2="352"/>
<line class="la" x1="1106" y1="364" x2="1124" y2="352"/>
<line class="la" x1="1155" y1="410" x2="1188" y2="410"/>
<line class="ln" x1="1180" y1="424" x2="1200" y2="424" style="stroke:#999"/>
<line class="ln" x1="1180" y1="452" x2="1200" y2="452" style="stroke:#999"/>
<line class="ln" x1="1180" y1="473" x2="1200" y2="473" style="stroke:#999"/>
<line class="la" x1="1112" y1="520" x2="1130" y2="520"/>
<line class="la" x1="1166" y1="520" x2="1191" y2="520"/>
</g>
</svg>
